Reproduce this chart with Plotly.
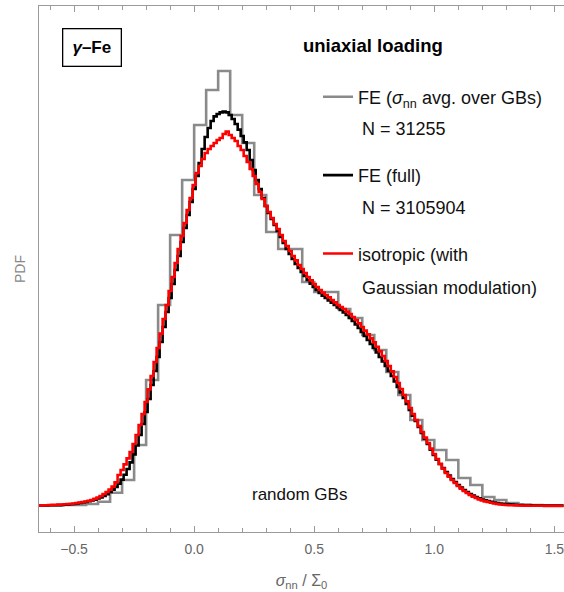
import plotly.graph_objects as go

# ---------------- data (PDF values) ----------------
# coarse histogram: FE, sigma_nn averaged over GBs (bin edges start / width)
gray_bin_start = -0.65
gray_bin_width = 0.05
gray_pdf = [0.0025, 0.0025, 0.005, 0.005, 0.010, 0.0215, 0.0665, 0.13, 0.305, 0.63,
            1.005, 1.355, 1.63, 1.905, 2.08, 2.175, 1.955, 1.815, 1.555, 1.37,
            1.285, 1.285, 1.12, 1.07, 1.07, 0.985, 0.94, 0.855, 0.78, 0.67,
            0.555, 0.43, 0.33, 0.28, 0.23, 0.14, 0.105, 0.045, 0.03, 0.015,
            0.0075, 0.005, 0.0025, 0.0025]

# fine histograms (first bin centre / width)
fine_first_center = -0.65
fine_bin_width = 0.0125
black_pdf = [
    0.0025, 0.0025, 0.0025, 0.003, 0.0035, 0.0037, 0.004, 0.0045, 0.005, 0.006,
    0.0075, 0.0085, 0.01, 0.0125, 0.015, 0.0175, 0.02, 0.024, 0.0275, 0.032,
    0.0375, 0.043, 0.05, 0.059, 0.07, 0.082, 0.095, 0.112, 0.132, 0.156,
    0.185, 0.218, 0.258, 0.303, 0.355, 0.41, 0.47, 0.535, 0.605, 0.675,
    0.745, 0.82, 0.895, 0.97, 1.04, 1.11, 1.18, 1.25, 1.32, 1.39,
    1.455, 1.52, 1.585, 1.65, 1.715, 1.785, 1.845, 1.89, 1.925, 1.948,
    1.96, 1.968, 1.972, 1.968, 1.955, 1.935, 1.91, 1.882, 1.85, 1.818,
    1.78, 1.73, 1.68, 1.63, 1.585, 1.54, 1.50, 1.465, 1.435, 1.405,
    1.375, 1.345, 1.315, 1.285, 1.26, 1.235, 1.21, 1.19, 1.17, 1.15,
    1.13, 1.112, 1.095, 1.08, 1.065, 1.052, 1.04, 1.028, 1.017, 1.005,
    0.993, 0.98, 0.968, 0.955, 0.94, 0.925, 0.908, 0.89, 0.87, 0.85,
    0.83, 0.81, 0.79, 0.768, 0.745, 0.723, 0.70, 0.675, 0.65, 0.623,
    0.595, 0.568, 0.54, 0.51, 0.48, 0.452, 0.425, 0.395, 0.365, 0.337,
    0.31, 0.282, 0.255, 0.232, 0.21, 0.19, 0.17, 0.152, 0.135, 0.12,
    0.105, 0.092, 0.08, 0.07, 0.06, 0.052, 0.045, 0.038, 0.0325, 0.0285,
    0.025, 0.021, 0.0175, 0.015, 0.0125, 0.011, 0.01, 0.0087, 0.0075, 0.006,
    0.005, 0.0045, 0.004, 0.0035, 0.003, 0.0027, 0.0025, 0.0025, 0.0025, 0.0022,
    0.002, 0.002, 0.002, 0.002, 0.002, 0.002]
red_pdf = [
    0.0025, 0.003, 0.0035, 0.004, 0.005, 0.0055, 0.006, 0.007, 0.0075, 0.0085,
    0.01, 0.011, 0.0125, 0.015, 0.0175, 0.02, 0.0225, 0.026, 0.03, 0.036,
    0.0425, 0.05, 0.06, 0.07, 0.082, 0.097, 0.118, 0.155, 0.18, 0.208,
    0.238, 0.27, 0.31, 0.355, 0.405, 0.46, 0.52, 0.583, 0.65, 0.72,
    0.79, 0.862, 0.935, 1.005, 1.075, 1.145, 1.215, 1.285, 1.35, 1.415,
    1.48, 1.54, 1.605, 1.665, 1.70, 1.735, 1.765, 1.785, 1.80, 1.815,
    1.83, 1.84, 1.86, 1.872, 1.855, 1.84, 1.825, 1.80, 1.78, 1.75,
    1.72, 1.685, 1.65, 1.61, 1.57, 1.535, 1.50, 1.47, 1.44, 1.41,
    1.385, 1.355, 1.325, 1.30, 1.275, 1.25, 1.228, 1.205, 1.185, 1.165,
    1.145, 1.128, 1.11, 1.095, 1.08, 1.067, 1.055, 1.043, 1.03, 1.018,
    1.005, 0.995, 0.985, 0.972, 0.96, 0.945, 0.93, 0.913, 0.895, 0.877,
    0.858, 0.838, 0.818, 0.796, 0.773, 0.75, 0.725, 0.70, 0.673, 0.645,
    0.615, 0.585, 0.555, 0.523, 0.49, 0.46, 0.43, 0.40, 0.37, 0.342,
    0.315, 0.287, 0.26, 0.235, 0.21, 0.187, 0.165, 0.147, 0.13, 0.115,
    0.10, 0.087, 0.075, 0.065, 0.055, 0.047, 0.04, 0.033, 0.0275, 0.023,
    0.02, 0.016, 0.0125, 0.01, 0.0075, 0.006, 0.005, 0.004, 0.0035, 0.003,
    0.0025, 0.0022, 0.002, 0.0017, 0.0015, 0.0012, 0.001, 0.001, 0.001, 0.0007,
    0.0005, 0.0005, 0.0005, 0.0005, 0.0005, 0.0005]

series_names = ["FE (<i>σ</i><sub>nn</sub> avg. over GBs)", "FE (full)", "isotropic (with"]
series_second_lines = ["N = 31255", "N = 3105904", "Gaussian modulation)"]
x_tick_vals = [-0.5, 0.0, 0.5, 1.0, 1.5]
x_tick_text = ["\u22120.5", "0.0", "0.5", "1.0", "1.5"]


def edge_steps(start, width, vals):
    e = [round(start + i * width, 5) for i in range(len(vals) + 1)]
    return e, list(vals) + [vals[-1]]


def centers(first, width, vals):
    return [round(first + i * width, 5) for i in range(len(vals))]


FONT = "Arial, Liberation Sans, sans-serif"
fig = go.Figure()

gx, gy = edge_steps(gray_bin_start, gray_bin_width, gray_pdf)
fig.add_trace(go.Scatter(x=gx, y=gy, mode="lines", line=dict(color="#8a8a8a", width=2.6, shape="hv"),
                         name=series_names[0], legendgroup="g"))
fig.add_trace(go.Scatter(x=centers(fine_first_center, fine_bin_width, black_pdf), y=black_pdf, mode="lines",
                         line=dict(color="#000000", width=2.6, shape="hvh"),
                         name=series_names[1], legendgroup="b"))
fig.add_trace(go.Scatter(x=centers(fine_first_center, fine_bin_width, red_pdf), y=red_pdf, mode="lines",
                         line=dict(color="#ff0000", width=2.6, shape="hvh"),
                         name=series_names[2], legendgroup="r"))

W, H = 564, 592
L, R, T, B = 39, 0, 6, 60
pw, ph = W - L - R, H - T - B


def px(xp):
    return (xp - L) / pw


def py(yp):
    return (H - B - yp) / ph


TXT = 17
LEG = 18
ann = []
ann.append(dict(text="<b><i>γ</i>–Fe</b>", x=px(92), y=py(47.5), xref="paper", yref="paper",
                showarrow=False, font=dict(family=FONT, size=17, color="#000"),
                bordercolor="#000", borderwidth=1.3, borderpad=7, width=43, height=22,
                xanchor="center", yanchor="middle"))
ann.append(dict(text="<b>uniaxial loading</b>", x=px(372.5), y=py(46), xref="paper", yref="paper",
                showarrow=False, font=dict(family=FONT, size=18.5, color="#000"),
                xanchor="center", yanchor="middle"))
for txt, yp in zip(series_second_lines, [129.3, 208.3, 288.3]):
    ann.append(dict(text=txt, x=px(359.5), y=py(yp), xref="paper", yref="paper", showarrow=False,
                    font=dict(family=FONT, size=LEG, color="#111"), xanchor="left", yanchor="middle"))
ann.append(dict(text="random GBs", x=px(299.5), y=py(494), xref="paper", yref="paper", showarrow=False,
                font=dict(family=FONT, size=TXT, color="#111"), xanchor="center", yanchor="middle"))

axis_col = "#9a9a9a"
fig.update_layout(
    width=W, height=H, margin=dict(l=L, r=R, t=T, b=B, autoexpand=False),
    paper_bgcolor="white", plot_bgcolor="white",
    font=dict(family=FONT),
    showlegend=True,
    legend=dict(x=px(318), y=py(78.5), xanchor="left", yanchor="top",
                font=dict(family=FONT, size=LEG, color="#111"),
                bgcolor="rgba(0,0,0,0)", traceorder="grouped", tracegroupgap=52,
                itemclick=False),
    annotations=ann,
    xaxis=dict(range=[-0.646, 1.54], showgrid=False, zeroline=False, automargin=False,
               showline=True, linecolor=axis_col, linewidth=1.2, mirror="ticks",
               ticks="inside", ticklen=6, tickwidth=1, tickcolor=axis_col,
               tickvals=x_tick_vals, ticktext=x_tick_text, ticklabelstandoff=4,
               ticklabeloverflow="allow",
               tickfont=dict(family=FONT, size=14, color="#666"),
               minor=dict(ticks="inside", ticklen=3.5, dtick=0.1, tick0=0, tickcolor=axis_col, showgrid=False),
               title=dict(text="<i>σ</i><sub>nn</sub> / Σ<sub>0</sub>", standoff=18,
                          font=dict(family=FONT, size=16, color="#666"))),
    yaxis=dict(range=[-0.13, 2.5], showgrid=False, zeroline=False, showline=True, automargin=False,
               linecolor=axis_col, linewidth=1.2, ticks="", showticklabels=False,
               title=dict(text="PDF", standoff=9, font=dict(family=FONT, size=14, color="#888"))),
)

fig.write_html("out.html", config={"displayModeBar": False},
               post_script="document.body.style.margin='0';")
